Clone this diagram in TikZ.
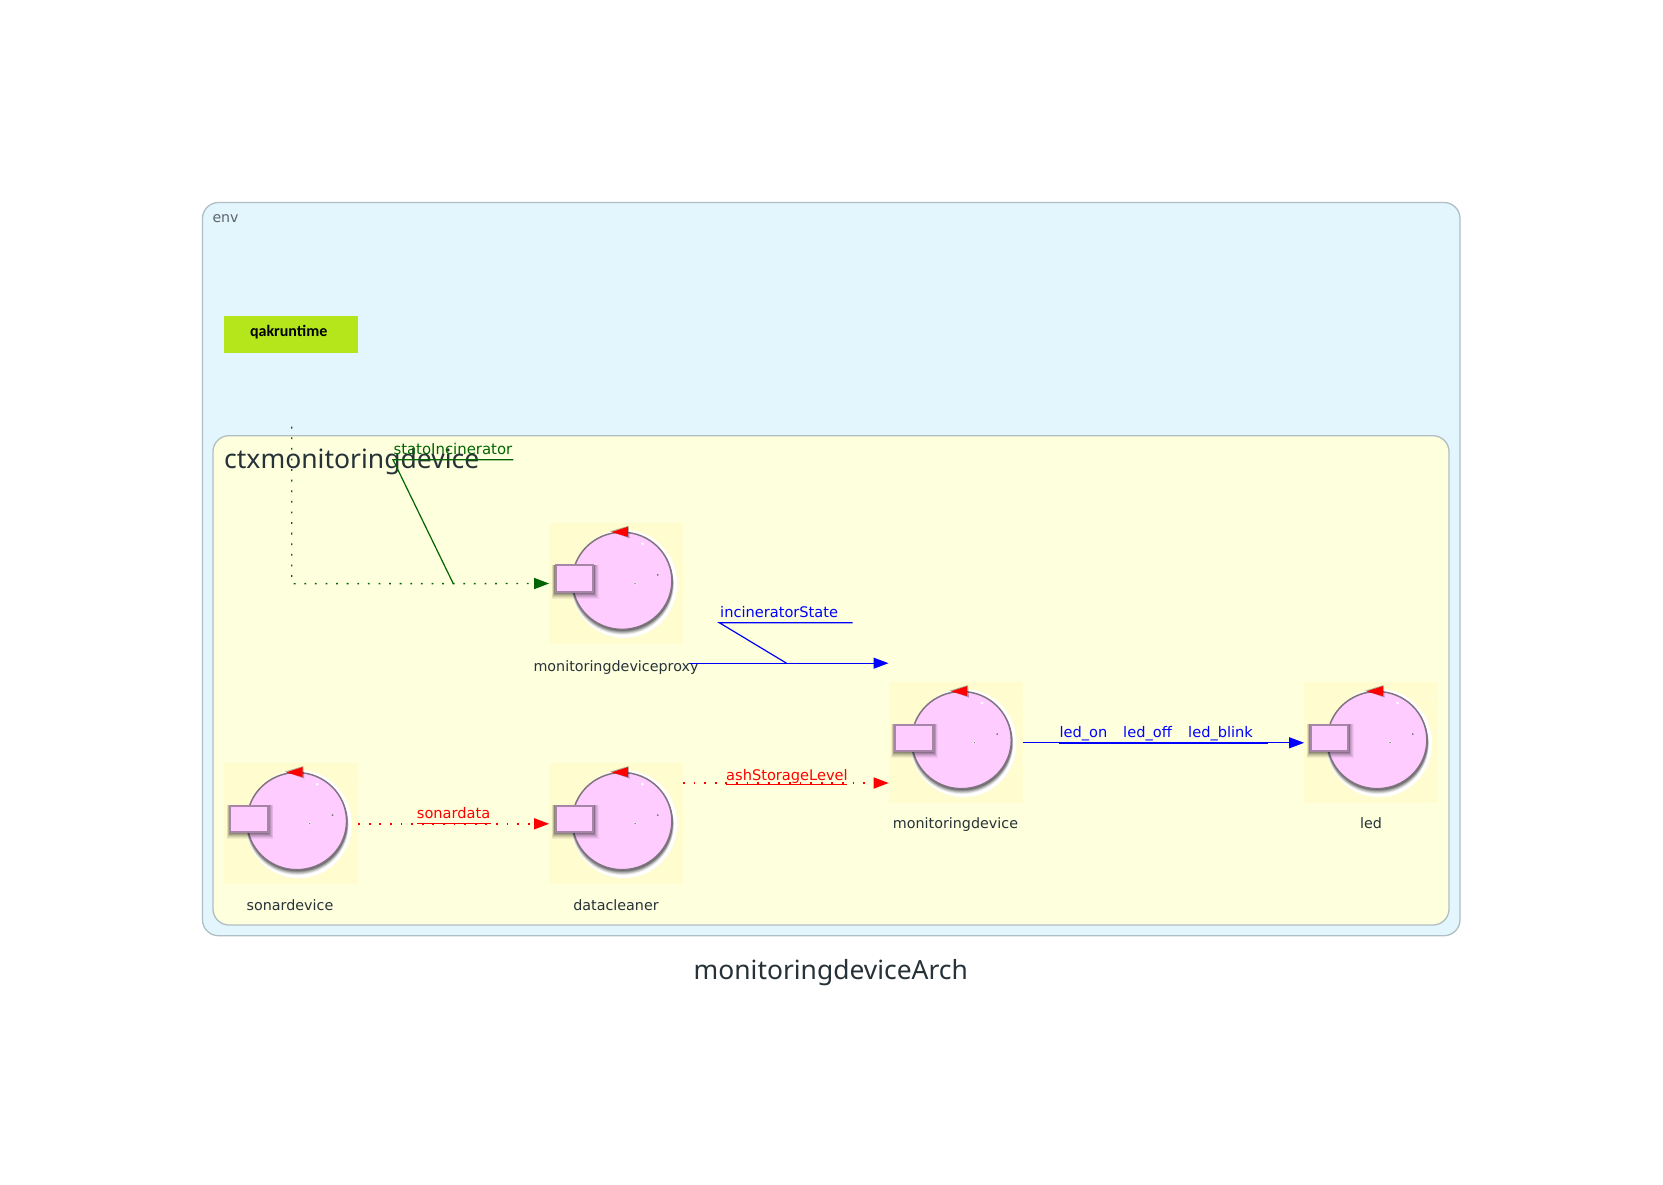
\documentclass[tikz,border=0pt]{standalone}
\usepackage{fontspec}
\setmainfont{DejaVu Sans}
\newfontfamily\qakfont{Carlito}
\newfontfamily\headfont{Noto Sans}
\usetikzlibrary{arrows.meta}
\definecolor{envfill}{HTML}{E3F5FD}
\definecolor{ctxfill}{HTML}{FEFFDD}
\definecolor{boxline}{HTML}{B0BEC5}
\definecolor{actorbg}{HTML}{FFFCCF}
\definecolor{actorfill}{HTML}{FFCCFF}
\definecolor{actorline}{HTML}{80757F}
\definecolor{qakgreen}{HTML}{B4E61B}
\definecolor{inkgrey}{HTML}{263238}
\definecolor{msggreen}{HTML}{006400}
\tikzset{
	actorbox/.style={minimum width=134pt, minimum height=121pt, inner sep=0pt, fill=actorbg},
	actorname/.style={font=\fontsize{14.3}{16}\selectfont, text=inkgrey, anchor=base},
	msglabel/.style={font=\fontsize{14.6}{16}\selectfont, anchor=base west, inner sep=0pt},
	msgline/.style={line width=1.1pt, -{Triangle[length=15pt,width=11pt]}},
	msgdots/.style={msgline, line width=1.4pt, dash pattern=on 1.8pt off 8.8pt},
	msgmark/.style={line width=1.2pt},
	actoricon/.pic={
		% halo and shadow first
		\fill[white] (75,61) ellipse (53 and 54);
		\foreach \d/\o in {7/.08,6/.10,5/.12,4/.15,3/.18,2/.2}
			\fill[black, opacity=\o] (73.5,57.5+\d*.6) ellipse (49.5+\d*.25 and 48.5+\d*.25);
		\draw[actorline, line width=1.5pt, fill=actorfill] (73,58) ellipse (49.8 and 48.6);
		\foreach \d/\o in {6/.05,5/.06,4/.08,3/.1,2/.12,1/.14}
			\fill[black, opacity=\o] (5.7-.5*\d,41.7) rectangle (44.7+.8*\d,70+\d);
		\draw[black!35!actorfill, line width=2pt, fill=actorfill] (6.5,42.5) rectangle (44,69.3);
		\fill[black, opacity=.3] (61,8.5) -- (79.5,3) -- (80.5,15.5) -- cycle;
		\fill[red] (62.5,9.3) -- (78.7,4) -- (78.7,14) -- cycle;
		\fill[white] (93.5,21) circle (1.5);
		\fill[white] (128.5,15.5) circle (.8);
		\fill[black!55] (108.7,52) circle (1);
		\fill[white] (86,60.5) circle (1.5);
		\fill[black!55] (86,60.5) circle (.8);
	}
}

\begin{document}
\begin{tikzpicture}[x=1pt, y=-1pt]
	\useasboundingbox (0,0) rectangle (1663,1184);
	\fill[white] (0,0) rectangle (1663,1184);

	% containers
	\draw[boxline, line width=1.3pt, fill=envfill, rounded corners=16pt] (202.5,202.5) rectangle (1460,935.7);
	\node[anchor=base west, inner sep=0pt, text=inkgrey!75, font=\fontsize{14.2}{16}\selectfont] (envlabel) at (212.3,222.7) {env};
	\draw[boxline, line width=1.3pt, fill=ctxfill, rounded corners=16pt] (213,435.7) rectangle (1449,925);
	\node[anchor=base west, inner sep=0pt, text=inkgrey, font=\headfont\fontsize{26.5}{30}\selectfont] (ctxlabel) at (224,468) {ctxmonitoringdevice};

	\node[fill=qakgreen, minimum width=134pt, minimum height=36.7pt, inner sep=0pt] (qakruntime) at (291,334.3) {};
	\node[anchor=base, inner sep=0pt, font=\qakfont\bfseries\fontsize{16}{16}\selectfont] (qaklabel) at (288.7,336) {qakruntime};

	% actors
	\node[actorbox] (monitoringdeviceproxy) at (616.3,583.5) {};
	\node[actorbox] (sonardevice) at (291,823.8) {};
	\node[actorbox] (datacleaner) at (616.3,823.8) {};
	\node[actorbox] (monitoringdevice) at (955.7,742.8) {};
	\node[actorbox] (led) at (1371.3,742.8) {};
	\pic at (monitoringdeviceproxy.north west) {actoricon};
	\pic at (sonardevice.north west) {actoricon};
	\pic at (datacleaner.north west) {actoricon};
	\pic at (monitoringdevice.north west) {actoricon};
	\pic at (led.north west) {actoricon};
	\node[actorname] (proxyname) at (616,671) {monitoringdeviceproxy};
	\node[actorname] (sonarname) at (290,910.7) {sonardevice};
	\node[actorname] (cleanername) at (616,910.7) {datacleaner};
	\node[actorname] (devicename) at (955.5,828.5) {monitoringdevice};
	\node[actorname] (ledname) at (1371,828.5) {led};

	% free ends
	\coordinate (qakdown) at (291.7,426.7);
	\coordinate (qakbend) at (291.7,583.7);
	\coordinate (statobend) at (453.3,583.7);
	\coordinate (statostart) at (393,459.7);
	\coordinate (statoend) at (513.3,459.7);
	\coordinate (proxyout) at (689,663.2);
	\coordinate (deviceup) at (888.5,663.2);
	\coordinate (statebend) at (786.5,663.2);
	\coordinate (statestart) at (719.3,622.7);
	\coordinate (stateend) at (852.7,622.7);
	\coordinate (cleanerout) at (683,783);
	\coordinate (devicein) at (888.7,783);

	% messages
	\draw[msgdots, msggreen] (qakdown) -- (qakbend) -- (monitoringdeviceproxy.west);
	\draw[msgmark, msggreen] (statoend) -- (statostart) -- (statobend);
	\node[msglabel, text=msggreen, font=\fontsize{14.9}{16}\selectfont] (statolabel) at (393.3,454.5) {statoIncinerator};

	\draw[msgline, blue] (proxyout) -- (deviceup);
	\draw[msgmark, blue] (stateend) -- (statestart) -- (statebend);
	\node[msglabel, text=blue] (statelabel) at (720,617) {incineratorState};

	\draw[msgdots, red] (sonardevice.east) -- (datacleaner.west);
	\draw[msgmark, red] (417,823.8) -- (490.7,823.8);
	\node[msglabel, text=red] (sonarlabel) at (416.7,818) {sonardata};

	\draw[msgdots, red] (cleanerout) -- (devicein);
	\draw[msgmark, red] (726,784.7) -- (847,784.7);
	\node[msglabel, text=red] (ashlabel) at (726,780) {ashStorageLevel};

	\draw[msgline, blue] (monitoringdevice.east) -- (led.west);
	\draw[msgmark, blue] (1059,743.2) -- (1268,743.2);
	\node[msglabel, text=blue] (onlabel) at (1059.3,737) {led\_on};
	\node[msglabel, text=blue] (offlabel) at (1123,737) {led\_off};
	\node[msglabel, text=blue] (blinklabel) at (1188,737) {led\_blink};

	\node[anchor=base, inner sep=0pt, text=inkgrey, font=\headfont\fontsize{26.4}{30}\selectfont] (title) at (830.8,979.3) {monitoringdeviceArch};
\end{tikzpicture}
\end{document}
